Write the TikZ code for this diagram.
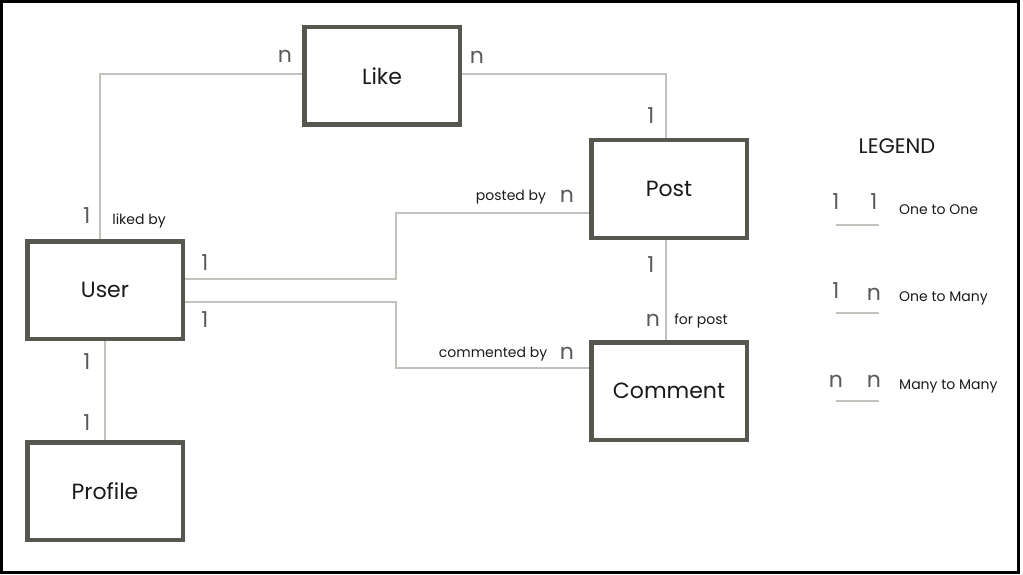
\documentclass[tikz,border=0pt]{standalone}
\usepackage{fontspec}
\setmainfont{Poppins}
\usepackage{xcolor}
\usepackage{tikz}
\usetikzlibrary{positioning}
\definecolor{boxline}{HTML}{56574F}
\definecolor{linkgray}{HTML}{C2C2BC}
\definecolor{multgray}{HTML}{5A5A5A}
\definecolor{textdark}{HTML}{1A1A1A}

\begin{document}
\begin{tikzpicture}[x=1pt, y=-1pt,
    entity/.style={rectangle, draw=boxline, line width=4.5pt, fill=white, minimum width=155.5pt, minimum height=97.5pt, align=center, font=\fontsize{22}{26}\selectfont, text=textdark},
    link/.style={draw=linkgray, line width=2.8pt},
    mult/.style={inner sep=0pt, text=multgray, font=\fontsize{22}{26}\selectfont},
    role/.style={inner sep=0pt, text=textdark, font=\fontsize{14}{16}\selectfont},
    legendtext/.style={inner sep=0pt, anchor=west, text=textdark, font=\fontsize{14}{16}\selectfont}
]
\useasboundingbox (0,0) rectangle (1023,575);
\draw[black, line width=3pt] (1.5,1.5) rectangle (1018.5,572);

% entities
\node[entity] (like) at (382,76) {Like};
\node[entity] (post) at (669,189) {Post};
\node[entity] (user) at (105,290) {User};
\node[entity] (comment) at (669,391) {Comment};
\node[entity] (profile) at (105,491) {Profile};

% relations
\draw[link] ([xshift=-5pt]user.north) |- ([yshift=2pt]like.west);
\draw[link] ([yshift=2pt]like.east) -| ([xshift=-3pt]post.north);
\draw[link] ([yshift=11pt]user.east) -- ++(211pt,0) |- ([yshift=-24pt]post.west);
\draw[link] ([yshift=-12pt]user.east) -- ++(211pt,0) |- ([yshift=23pt]comment.west);
\draw[link] ([xshift=-3pt]post.south) -- ([xshift=-3pt]comment.north);
\draw[link] (user.south) -- (profile.north);

% multiplicities
\node[mult] (likeL) at (285,56) {n};
\node[mult] (likeR) at (477,57) {n};
\node[mult] (postT) at (651,116) {1};
\node[mult] (userT) at (87,216) {1};
\node[role] (likedby) at (139,221) {liked by};
\node[mult] (userP) at (205,263) {1};
\node[mult] (userC) at (205,320) {1};
\node[role] (postedby) at (511,197) {posted by};
\node[mult] (postL) at (567,196) {n};
\node[role] (commentedby) at (493,354) {commented by};
\node[mult] (commentL) at (567,353) {n};
\node[mult] (postB) at (651,265) {1};
\node[mult] (commentT) at (653,320) {n};
\node[role] (forpost) at (701,321) {for post};
\node[mult] (userB) at (87,362) {1};
\node[mult] (profileT) at (87,423) {1};

% legend
\node[inner sep=0pt, text=textdark, font=\fontsize{21}{24}\selectfont] (legend) at (897,146) {LEGEND};
\node[mult] (oneA) at (836,202) {1};
\node[mult] (oneB) at (874,202) {1};
\draw[link] (836,225) -- (879,225);
\node[legendtext] (onetoone) at (899,210) {One to One};
\node[mult] (manyA) at (836,291) {1};
\node[mult] (manyB) at (874,294) {n};
\draw[link] (836,313) -- (879,313);
\node[legendtext] (onetomany) at (899,298) {One to Many};
\node[mult] (mmA) at (836,381) {n};
\node[mult] (mmB) at (874,381) {n};
\draw[link] (836,401) -- (879,401);
\node[legendtext] (manytomany) at (899,386) {Many to Many};

\end{tikzpicture}
\end{document}
